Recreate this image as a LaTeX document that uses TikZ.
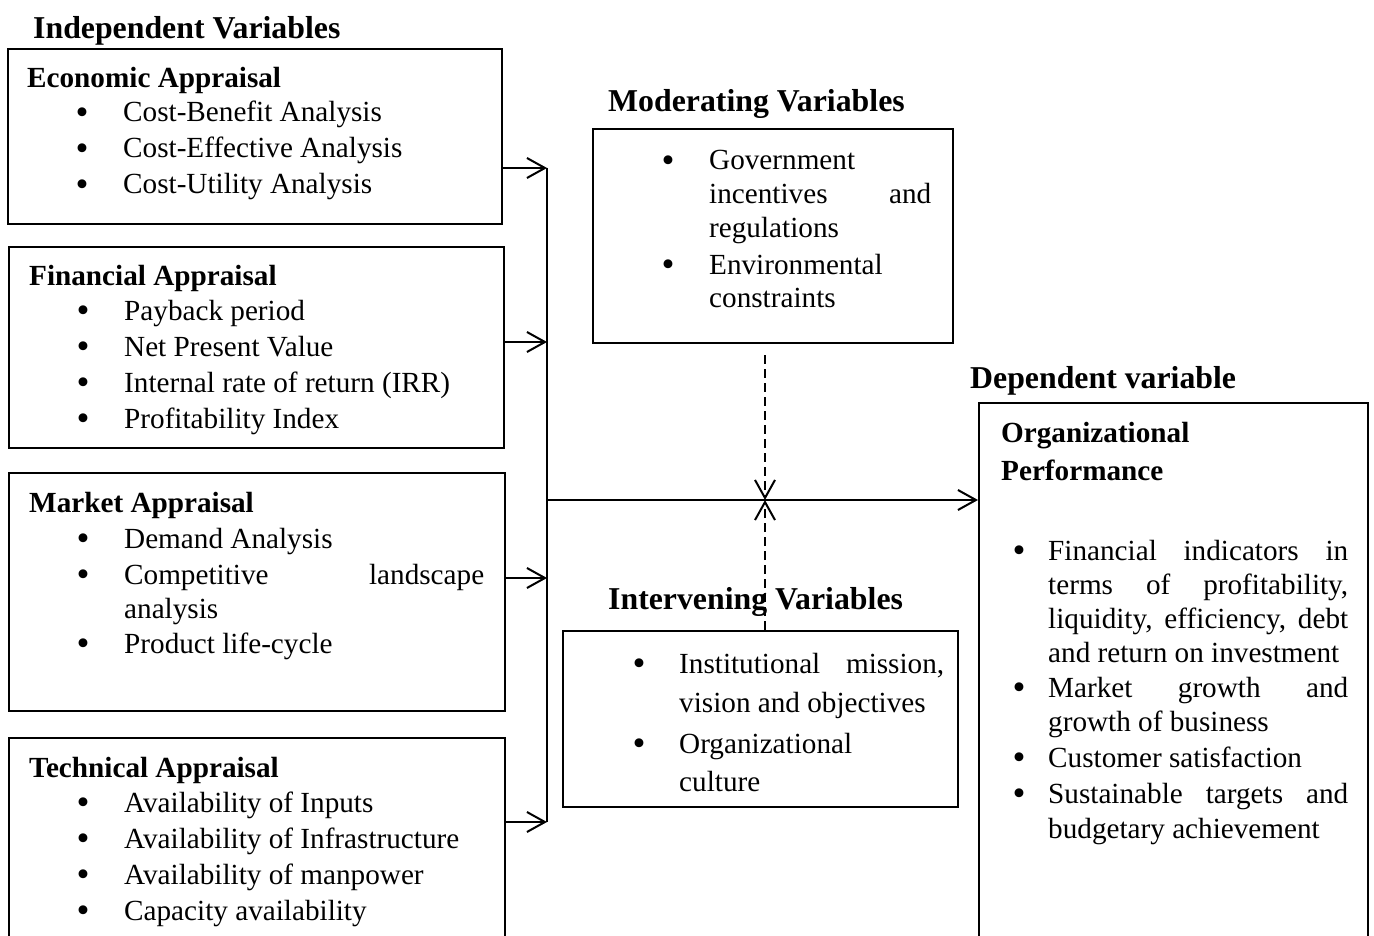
\documentclass[tikz,border=0pt]{standalone}
\usepackage{fontspec}
\setmainfont{Liberation Serif}
\usetikzlibrary{arrows.meta}
\newcommand{\bigbul}{\raisebox{-2.5pt}{\fontsize{37}{37}\selectfont\textbullet}}
\begin{document}
\begin{tikzpicture}[x=1pt,y=-1pt,
  box/.style={draw,line width=2pt,rectangle,anchor=north west,inner sep=0pt},
  txt/.style={anchor=base west,inner sep=0pt,font=\fontsize{29.2}{36}\selectfont},
  sub/.style={anchor=base west,inner sep=0pt,font=\fontsize{29.2}{36}\selectfont\bfseries},
  hd/.style={anchor=base west,inner sep=0pt,font=\fontsize{31.8}{38}\selectfont\bfseries},
  bul/.style={anchor=base,inner sep=0pt,font=\fontsize{29.2}{36}\selectfont},
  arr/.style={line width=2pt,-{Straight Barb[length=18pt,width=20pt,line width=2pt]}},
  link/.style={line width=2pt},
  dsh/.style={line width=2pt,dash pattern=on 9pt off 5pt}
]
\useasboundingbox (0,0) rectangle (1374,936);

% ---------- boxes ----------
\node[box,minimum width=494pt,minimum height=175pt] (econ) at (7,48) {};
\node[box,minimum width=495pt,minimum height=201pt] (fin) at (8,246) {};
\node[box,minimum width=496pt,minimum height=238pt] (mkt) at (8,472) {};
\node[box,minimum width=496pt,minimum height=215pt] (tech) at (8,737) {};
\node[box,minimum width=360pt,minimum height=214pt] (mod) at (592,128) {};
\node[box,minimum width=395pt,minimum height=176pt] (intv) at (562,630) {};
\node[box,minimum width=389pt,minimum height=550pt] (dep) at (978,402) {};

% ---------- headings ----------
\node[hd] (hind) at (33,39) {Independent Variables};
\node[hd] (hmod) at (608,112) {Moderating Variables};
\node[hd] (hdep) at (970,388) {Dependent variable};
\node[hd] (hint) at (608,609) {Intervening Variables};

% ---------- economic ----------
\node[sub] (econT) at (27,88) {Economic Appraisal};
\node[bul] (eb1) at (82,122) {\bigbul};
\node[bul] (eb2) at (82,158) {\bigbul};
\node[bul] (eb3) at (82,194) {\bigbul};
\node[txt] (e1) at (123,122) {Cost-Benefit Analysis};
\node[txt] (e2) at (123,158) {Cost-Effective Analysis};
\node[txt] (e3) at (123,194) {Cost-Utility Analysis};

% ---------- financial ----------
\node[sub] (finT) at (29,286) {Financial Appraisal};
\node[bul] (fb1) at (83,320) {\bigbul};
\node[bul] (fb2) at (83,356) {\bigbul};
\node[bul] (fb3) at (83,392) {\bigbul};
\node[bul] (fb4) at (83,428) {\bigbul};
\node[txt] (f1) at (124,320) {Payback period};
\node[txt] (f2) at (124,356) {Net Present Value};
\node[txt] (f3) at (124,392) {Internal rate of return (IRR)};
\node[txt] (f4) at (124,428) {Profitability Index};

% ---------- market ----------
\node[sub] (mktT) at (29,512) {Market Appraisal};
\node[bul] (mb1) at (83,548) {\bigbul};
\node[bul] (mb2) at (83,584) {\bigbul};
\node[bul] (mb3) at (83,653) {\bigbul};
\node[txt] (m1) at (124,548) {Demand Analysis};
\node[txt] (m2) at (124,584) {\makebox[360pt][s]{Competitive landscape}};
\node[txt] (m3) at (124,618) {analysis};
\node[txt] (m4) at (124,653) {Product life-cycle};

% ---------- technical ----------
\node[sub] (techT) at (29,777) {Technical Appraisal};
\node[bul] (tb1) at (83,812) {\bigbul};
\node[bul] (tb2) at (83,848) {\bigbul};
\node[bul] (tb3) at (83,884) {\bigbul};
\node[bul] (tb4) at (83,920) {\bigbul};
\node[txt] (t1) at (124,812) {Availability of Inputs};
\node[txt] (t2) at (124,848) {Availability of Infrastructure};
\node[txt] (t3) at (124,884) {Availability of manpower};
\node[txt] (t4) at (124,920) {Capacity availability};

% ---------- moderating ----------
\node[bul] (db1) at (668,170) {\bigbul};
\node[bul] (db2) at (668,274) {\bigbul};
\node[txt] (d1) at (709,170) {Government};
\node[txt] (d2) at (709,204) {\makebox[222pt][s]{incentives and}};
\node[txt] (d3) at (709,238) {regulations};
\node[txt] (d4) at (709,274) {Environmental};
\node[txt] (d5) at (709,308) {constraints};

% ---------- intervening ----------
\node[bul] (ib1) at (639,673) {\bigbul};
\node[bul] (ib2) at (639,753) {\bigbul};
\node[txt] (i1) at (679,673) {\makebox[265pt][s]{Institutional mission,}};
\node[txt] (i2) at (679,712) {vision and objectives};
\node[txt] (i3) at (679,753) {Organizational};
\node[txt] (i4) at (679,791) {culture};

% ---------- dependent ----------
\node[sub] (depT1) at (1001,442) {Organizational};
\node[sub] (depT2) at (1001,480) {Performance};
\node[bul] (pb1) at (1019,560) {\bigbul};
\node[bul] (pb2) at (1019,697) {\bigbul};
\node[bul] (pb3) at (1019,767) {\bigbul};
\node[bul] (pb4) at (1019,803) {\bigbul};
\node[txt] (p1) at (1048,560) {\makebox[300pt][s]{Financial indicators in}};
\node[txt] (p2) at (1048,594) {\makebox[300pt][s]{terms of profitability,}};
\node[txt] (p3) at (1048,628) {\makebox[300pt][s]{liquidity, efficiency, debt}};
\node[txt] (p4) at (1048,662) {and return on investment};
\node[txt] (p5) at (1048,697) {\makebox[300pt][s]{Market growth and}};
\node[txt] (p6) at (1048,731) {growth of business};
\node[txt] (p7) at (1048,767) {Customer satisfaction};
\node[txt] (p8) at (1048,803) {\makebox[300pt][s]{Sustainable targets and}};
\node[txt] (p9) at (1048,838) {budgetary achievement};

% ---------- connectors ----------
\coordinate (b1) at (547,168);
\coordinate (b2) at (547,342);
\coordinate (b3) at (547,578);
\coordinate (b4) at (547,822);
\coordinate (bm) at (547,500);
\coordinate (cx) at (765,500);
\coordinate (mt) at (765,355);

\draw[link] (b1) -- (b4);
\draw[arr] (b1 -| econ.east) -- (b1);
\draw[arr] (b2 -| fin.east) -- (b2);
\draw[arr] (b3 -| mkt.east) -- (b3);
\draw[arr] (b4 -| tech.east) -- (b4);
\draw[arr] (bm) -- (bm -| dep.west);
\draw[dsh,-{Straight Barb[length=18pt,width=20pt,line width=2pt]}] (mt) -- (cx);
\draw[dsh,-{Straight Barb[length=18pt,width=20pt,line width=2pt]}] (cx |- intv.north) -- (cx);
\end{tikzpicture}
\end{document}
